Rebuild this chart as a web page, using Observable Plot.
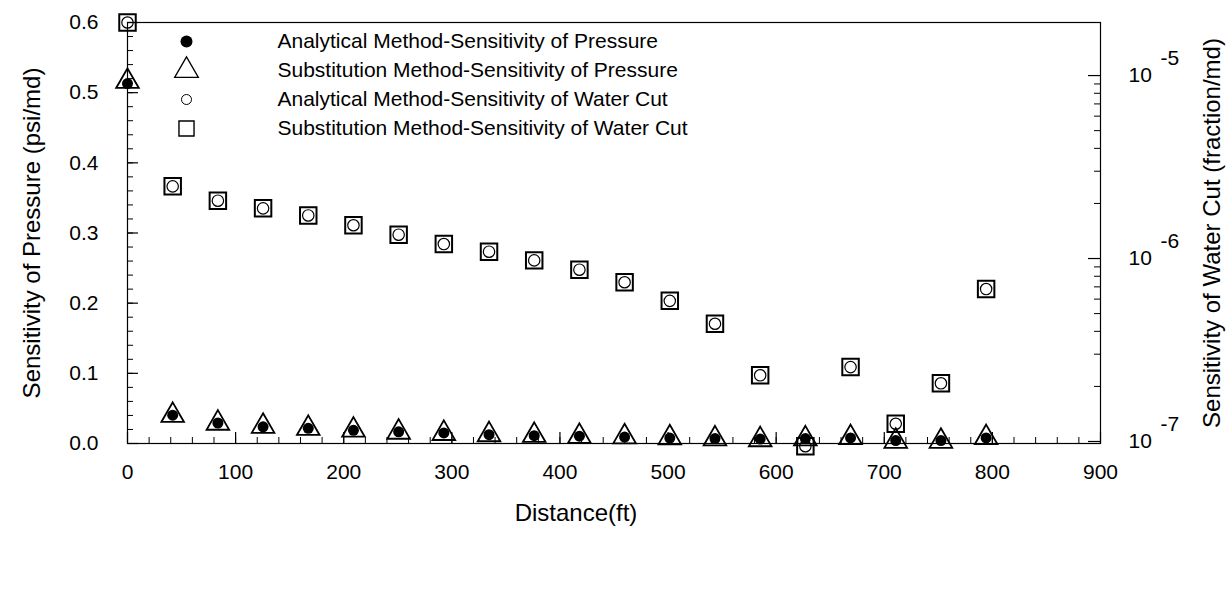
<!DOCTYPE html>
<html>
<head>
<meta charset="utf-8">
<script src="https://cdn.jsdelivr.net/npm/d3@7"></script>
<script src="https://cdn.jsdelivr.net/npm/@observablehq/plot@0.6"></script>
<style>
  html, body { margin: 0; padding: 0; background: #fff; }
  #chart svg { display: block; }
</style>
</head>
<body>
<div id="chart"></div>
<script>
// ---- data ----
const distance = [0, 41.8, 83.6, 125.4, 167.2, 209, 250.8, 292.6, 334.4, 376.2, 418, 459.8, 501.6, 543.4, 585.2, 627, 668.8, 710.6, 752.4, 794.2];
const pressureAnalytical = [0.513, 0.0404, 0.0292, 0.0237, 0.0217, 0.0188, 0.0167, 0.015, 0.0125, 0.0112, 0.0104, 0.0092, 0.0077, 0.0071, 0.0063, 0.0071, 0.0079, 0.0042, 0.0042, 0.0079];
const pressureSubstitution = [0.516, 0.040, 0.0289, 0.0245, 0.0215, 0.019, 0.0161, 0.0143, 0.0125, 0.0115, 0.0101, 0.0095, 0.0081, 0.0065, 0.0054, 0.0065, 0.0083, 0.0032, 0.0032, 0.0083];
const waterCutAnalytical = [1.95e-5, 2.48e-6, 2.07e-6, 1.88e-6, 1.72e-6, 1.52e-6, 1.35e-6, 1.20e-6, 1.09e-6, 9.77e-7, 8.69e-7, 7.42e-7, 5.87e-7, 4.40e-7, 2.30e-7, 9.42e-8, 2.55e-7, 1.25e-7, 2.08e-7, 6.81e-7];
const waterCutSubstitution = [1.95e-5, 2.48e-6, 2.07e-6, 1.88e-6, 1.72e-6, 1.52e-6, 1.35e-6, 1.20e-6, 1.09e-6, 9.77e-7, 8.69e-7, 7.42e-7, 5.87e-7, 4.40e-7, 2.30e-7, 9.42e-8, 2.55e-7, 1.25e-7, 2.08e-7, 6.81e-7];
const legendLabels = [
  "Analytical Method-Sensitivity of Pressure",
  "Substitution Method-Sensitivity of Pressure",
  "Analytical Method-Sensitivity of Water Cut",
  "Substitution Method-Sensitivity of Water Cut"
];
const xTickLabels = [0, 100, 200, 300, 400, 500, 600, 700, 800, 900];
const yTickLabels = [0.0, 0.1, 0.2, 0.3, 0.4, 0.5, 0.6];
const rightExponents = [-5, -6, -7];
const xTitle = "Distance(ft)";
const yTitle = "Sensitivity of Pressure (psi/md)";
const y2Title = "Sensitivity of Water Cut (fraction/md)";

// ---- layout ----
const W = 1232, H = 594;
const mL = 127, mR = 132, mT = 22, mB = 151;
const plotW = W - mL - mR, plotH = H - mT - mB;
const font = "'Liberation Sans', Arial, Helvetica, sans-serif";

// secondary (log) axis mapped onto the primary y domain
const y2Domain = [9.75e-8, 1.95e-5];
const yR = d3.scaleLog().domain(y2Domain).range([0, 0.6]);

const rows = distance.map((d, i) => ({
  d,
  pa: pressureAnalytical[i],
  ps: pressureSubstitution[i],
  wa: yR(waterCutAnalytical[i]),
  ws: yR(waterCutSubstitution[i])
}));

const xMinor = d3.range(0, 901, 20);
const yMinor = d3.range(0, 0.6001, 0.02);
const rMajor = rightExponents.map(e => 10 ** e);
const rMinor = [];
for (const k of [-8, -7, -6, -5]) for (let m = 2; m <= 9; m++) {
  const v = m * 10 ** k;
  if (v >= y2Domain[0] && v <= y2Domain[1]) rMinor.push(v);
}

const legendRowDy = [19, 48, 77, 106];
const legendSymbolDx = 59, legendTextDx = 150;
const legendSymbols = [
  {symbol: "circle", r: 6, fill: "black", stroke: "none", strokeWidth: 0},
  {symbol: "triangle", r: 8.8, fill: "none", stroke: "black", strokeWidth: 1.3},
  {symbol: "circle", r: 5, fill: "none", stroke: "black", strokeWidth: 1},
  {symbol: "square", r: 8.5, fill: "none", stroke: "black", strokeWidth: 1.4}
];

const legendMarks = legendLabels.flatMap((label, i) => [
  Plot.dot([label], {frameAnchor: "top-left", dx: legendSymbolDx, dy: legendRowDy[i], ...legendSymbols[i]}),
  Plot.text([label], {frameAnchor: "top-left", dx: legendTextDx, dy: legendRowDy[i], text: d => d, textAnchor: "start", lineAnchor: "middle", fontSize: 21, fill: "black"})
]);

const chart = Plot.plot({
  width: W,
  height: H,
  marginLeft: mL, marginRight: mR, marginTop: mT, marginBottom: mB,
  style: {fontFamily: font, background: "#fff", color: "black"},
  x: {domain: [0, 900], axis: null},
  y: {domain: [0, 0.6], axis: null},
  marks: [
    Plot.frame({stroke: "black", strokeWidth: 1.2}),
    // bottom axis ticks (inward)
    Plot.tickX(xMinor, {x: d => d, insetTop: plotH - 6, stroke: "black", strokeWidth: 1}),
    Plot.tickX(xTickLabels, {x: d => d, insetTop: plotH - 11, stroke: "black", strokeWidth: 1.2}),
    Plot.text(xTickLabels, {x: d => d, frameAnchor: "bottom", dy: 35, text: d => String(d), fontSize: 21, fill: "black"}),
    // left axis ticks (inward)
    Plot.tickY(yMinor, {y: d => d, insetRight: plotW - 6, stroke: "black", strokeWidth: 1}),
    Plot.tickY(yTickLabels, {y: d => d, insetRight: plotW - 11, stroke: "black", strokeWidth: 1.2}),
    Plot.text(yTickLabels, {y: d => d, frameAnchor: "left", dx: -29, textAnchor: "end", text: d => d.toFixed(1), fontSize: 21, fill: "black"}),
    // right log axis ticks (inward)
    Plot.tickY(rMinor, {y: d => yR(d), insetLeft: plotW - 6, stroke: "black", strokeWidth: 1}),
    Plot.tickY(rMajor, {y: d => yR(d), insetLeft: plotW - 12, stroke: "black", strokeWidth: 1.2}),
    Plot.text(rightExponents, {y: e => yR(10 ** e), frameAnchor: "right", dx: 28, textAnchor: "start", text: () => "10", fontSize: 21, fill: "black"}),
    Plot.text(rightExponents, {y: e => yR(10 ** e), frameAnchor: "right", dx: 60, dy: -17, textAnchor: "start", text: e => String(e), fontSize: 21, fill: "black"}),
    // axis titles
    Plot.text([yTitle], {frameAnchor: "left", dx: -95, rotate: -90, textAnchor: "middle", text: d => d, fontSize: 24, fill: "black"}),
    Plot.text([y2Title], {frameAnchor: "right", dx: 112, rotate: -90, textAnchor: "middle", text: d => d, fontSize: 24, fill: "black"}),
    Plot.text([xTitle], {frameAnchor: "bottom", dx: -38, dy: 77, textAnchor: "middle", text: d => d, fontSize: 24, fill: "black"}),
    // data
    Plot.dot(rows, {x: "d", y: "ws", symbol: "square", r: 9.3, fill: "none", stroke: "black", strokeWidth: 2}),
    Plot.dot(rows, {x: "d", y: "wa", symbol: "circle", r: 5.7, fill: "none", stroke: "black", strokeWidth: 1.2}),
    Plot.dot(rows, {x: "d", y: "ps", symbol: "triangle", r: 8.4, fill: "none", stroke: "black", strokeWidth: 1.8}),
    Plot.dot(rows, {x: "d", y: "pa", symbol: "circle", r: 5.5, fill: "black", stroke: "none"}),
    ...legendMarks
  ]
});

document.getElementById("chart").appendChild(chart);
</script>
</body>
</html>
